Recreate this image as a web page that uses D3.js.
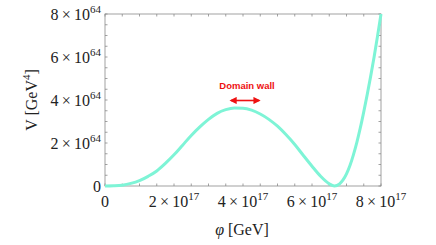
<!DOCTYPE html>
<html>
<head>
<meta charset="utf-8">
<script src="https://cdn.jsdelivr.net/npm/d3@7"></script>
<style>
  html, body { margin: 0; padding: 0; background: #fff; }
  text { font-family: "Liberation Serif", "DejaVu Serif", serif; fill: #222; }
</style>
</head>
<body>
<svg id="chart" width="436" height="245"></svg>
<script>
// field value phi in units of 1e17 GeV, potential V in units of 1e64 GeV^4
let phi = [0, 0.25, 0.5, 0.75, 1.0, 1.25, 1.5, 1.75, 2.0, 2.25, 2.5, 2.75, 3.0, 3.25, 3.5, 3.75, 4.0,
           4.25, 4.5, 4.75, 5.0, 5.25, 5.5, 5.75, 6.0, 6.25, 6.5, 6.65, 6.8, 6.9, 7.0, 7.1, 7.2, 7.3,
           7.4, 7.5, 7.6, 7.7, 7.8, 7.9, 8.0];
let potential = [0, 0.01, 0.04, 0.12, 0.25, 0.45, 0.7, 1.05, 1.45, 1.9, 2.35, 2.75, 3.1, 3.38, 3.55, 3.63, 3.62,
                 3.53, 3.35, 3.1, 2.78, 2.38, 1.93, 1.42, 0.92, 0.45, 0.1, 0, 0.1, 0.28, 0.56, 0.95, 1.45, 2.03,
                 2.7, 3.45, 4.25, 5.1, 6.0, 6.98, 8.0];

let xTicks = [0, 2, 4, 6, 8];
let yTicks = [0, 2, 4, 6, 8];
let xExponent = "17";
let yExponent = "64";

let svg = d3.select("#chart");
let plotLeft = 105, plotRight = 381, plotTop = 14, plotBottom = 186;

let x = d3.scaleLinear().domain([0, 8]).range([plotLeft, plotRight]);
let y = d3.scaleLinear().domain([0, 8]).range([plotBottom, plotTop]);

// minor ticks every 0.5, on all four sides, pointing inward
let minor = d3.range(0, 8.01, 0.5);
let frame = svg.append("g").attr("stroke", "#8a8a8a").attr("stroke-width", 0.8);
minor.forEach(function (v) {
    let len = 2.5;
    frame.append("line").attr("x1", x(v)).attr("x2", x(v)).attr("y1", plotBottom).attr("y2", plotBottom - len);
    frame.append("line").attr("x1", x(v)).attr("x2", x(v)).attr("y1", plotTop).attr("y2", plotTop + len);
    frame.append("line").attr("y1", y(v)).attr("y2", y(v)).attr("x1", plotLeft).attr("x2", plotLeft + len);
    frame.append("line").attr("y1", y(v)).attr("y2", y(v)).attr("x1", plotRight).attr("x2", plotRight - len);
});
frame.append("rect")
    .attr("x", plotLeft).attr("y", plotTop)
    .attr("width", plotRight - plotLeft).attr("height", plotBottom - plotTop)
    .attr("fill", "none");

// x tick labels
xTicks.forEach(function (v) {
    let t = svg.append("text")
        .attr("x", x(v)).attr("y", 207)
        .attr("text-anchor", "middle")
        .attr("font-size", 16);
    if (v === 0) { t.text("0"); return; }
    t.append("tspan").text(v + "\u2009\u00d7\u200910");
    t.append("tspan").attr("font-size", 11).attr("dy", -7).text(xExponent);
});

// y tick labels
yTicks.forEach(function (v) {
    let t = svg.append("text")
        .attr("x", 101).attr("y", y(v) + 6)
        .attr("text-anchor", "end")
        .attr("font-size", 16);
    if (v === 0) { t.text("0"); return; }
    t.append("tspan").text(v + "\u2009\u00d7\u200910");
    t.append("tspan").attr("font-size", 11).attr("dy", -7).text(yExponent);
});

// axis titles
let xt = svg.append("text")
    .attr("x", 242).attr("y", 235)
    .attr("text-anchor", "middle")
    .attr("font-size", 16);
xt.append("tspan").attr("font-style", "italic").text("\u03c6");
xt.append("tspan").text(" [GeV]");

let yt = svg.append("text")
    .attr("transform", "translate(37,100) rotate(-90)")
    .attr("text-anchor", "middle")
    .attr("font-size", 16);
yt.append("tspan").text("V [GeV");
yt.append("tspan").attr("font-size", 11).attr("dy", -7).text("4");
yt.append("tspan").attr("dy", 7).text("]");

// the potential curve
let line = d3.line()
    .x(function (d, i) { return x(phi[i]); })
    .y(function (d) { return y(d); })
    .curve(d3.curveMonotoneX);

svg.append("path")
    .datum(potential)
    .attr("fill", "none")
    .attr("stroke", "#7ef4d6")
    .attr("stroke-width", 3)
    .attr("d", line);

// domain wall annotation
svg.append("defs").append("marker")
    .attr("id", "head")
    .attr("viewBox", "0 0 10 10")
    .attr("refX", 8).attr("refY", 5)
    .attr("markerWidth", 4.5).attr("markerHeight", 4.5)
    .attr("orient", "auto-start-reverse")
    .append("path")
    .attr("d", "M0,0 L10,5 L0,10 Z")
    .attr("fill", "#ee1111");

svg.append("line")
    .attr("x1", x(3.65)).attr("x2", x(4.47))
    .attr("y1", 100.5).attr("y2", 100.5)
    .attr("stroke", "#ee1111").attr("stroke-width", 1.6)
    .attr("marker-start", "url(#head)")
    .attr("marker-end", "url(#head)");

svg.append("text")
    .attr("x", 247).attr("y", 89)
    .attr("text-anchor", "middle")
    .style("font-family", "'Liberation Sans', Arial, sans-serif")
    .style("font-weight", "bold")
    .style("font-size", "9.5px")
    .style("fill", "#ee1111")
    .text("Domain wall");
</script>
</body>
</html>
